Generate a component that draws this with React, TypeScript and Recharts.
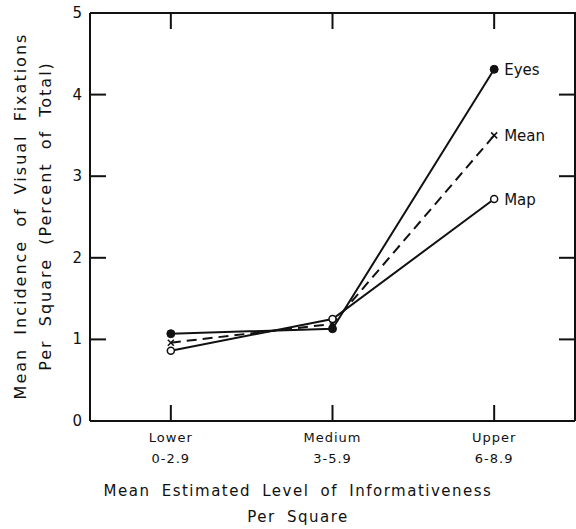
import React from 'react';
import { LineChart, Line, XAxis, YAxis, Label, LabelList } from 'recharts';

const levels = ['Lower', 'Medium', 'Upper'];
const ranges = ['0-2.9', '3-5.9', '6-8.9'];
const eyes = [1.07, 1.13, 4.31];
const map = [0.86, 1.25, 2.72];
const mean = [0.96, 1.19, 3.5];
const yTicks = [0, 1, 2, 3, 4, 5];

const data = levels.map((level, i) => ({
  idx: i,
  level,
  range: ranges[i],
  eyes: eyes[i],
  map: map[i],
  mean: mean[i],
}));

const FONT = '"DejaVu Sans", sans-serif';
const INK = '#111';
const TICK = 16;
const W = 576;
const H = 529;
const MARGIN = { top: 13, right: 1, left: 10, bottom: 0 };
const Y_AXIS_W = 80;
const X_AXIS_H = 108;
const X_MIN = -0.5;
const X_MAX = levels.length - 0.5;
const Y_MAX = 5;

// plot box, from the margins and axis sizes above
const PLOT_L = MARGIN.left + Y_AXIS_W;
const PLOT_R = W - MARGIN.right;
const PLOT_T = MARGIN.top;
const PLOT_B = H - MARGIN.bottom - X_AXIS_H;

const BottomTick = (props: any) => {
  const { x, y, payload } = props;
  const i = payload.value;
  return (
    <g>
      <line x1={x} y1={y} x2={x} y2={y - TICK} stroke={INK} strokeWidth={2} />
      <text x={x} y={y + 21} textAnchor="middle" fontFamily={FONT} fontSize={13} fill={INK} letterSpacing={1}>
        {levels[i]}
      </text>
      <text x={x} y={y + 42} textAnchor="middle" fontFamily={FONT} fontSize={13} fill={INK} letterSpacing={1}>
        {ranges[i]}
      </text>
    </g>
  );
};

const LeftTick = (props: any) => {
  const { x, y, payload } = props;
  return (
    <g>
      <line x1={x} y1={y} x2={x + TICK} y2={y} stroke={INK} strokeWidth={2} />
      <text x={x - 8} y={y + 5} textAnchor="end" fontFamily={FONT} fontSize={15} fill={INK}>
        {payload.value}
      </text>
    </g>
  );
};

const FilledDot = (props: any) => (
  <circle cx={props.cx} cy={props.cy} r={4} fill={INK} stroke={INK} />
);

const OpenDot = (props: any) => (
  <circle cx={props.cx} cy={props.cy} r={3.5} fill="#fff" stroke={INK} strokeWidth={1.5} />
);

const CrossDot = (props: any) => {
  const { cx, cy } = props;
  return (
    <g stroke={INK} strokeWidth={1.5}>
      <line x1={cx - 3} y1={cy - 3} x2={cx + 3} y2={cy + 3} />
      <line x1={cx - 3} y1={cy + 3} x2={cx + 3} y2={cy - 3} />
    </g>
  );
};

const endLabel = (name: string) => (props: any) => {
  const { x, y, index } = props;
  if (index !== levels.length - 1) return null;
  return (
    <text x={x + 10} y={y + 6} fontFamily={FONT} fontSize={15} fill={INK}>
      {name}
    </text>
  );
};

// top and right sides of the frame, with inward ticks
const Frame = () => {
  const pw = PLOT_R - PLOT_L;
  const ph = PLOT_B - PLOT_T;
  return (
    <g stroke={INK} strokeWidth={2} fill="none">
      <line x1={PLOT_L} y1={PLOT_T} x2={PLOT_R + 1} y2={PLOT_T} />
      <line x1={PLOT_R} y1={PLOT_T} x2={PLOT_R} y2={PLOT_B} />
      {levels.map((_, i) => {
        const tx = PLOT_L + ((i - X_MIN) / (X_MAX - X_MIN)) * pw;
        return <line key={`t${i}`} x1={tx} y1={PLOT_T} x2={tx} y2={PLOT_T + TICK} />;
      })}
      {yTicks.slice(1, -1).map((v) => {
        const ty = PLOT_B - (v / Y_MAX) * ph;
        return <line key={`r${v}`} x1={PLOT_R} y1={ty} x2={PLOT_R - TICK} y2={ty} />;
      })}
    </g>
  );
};

const XTitle = () => (
  <g fontFamily={FONT} fontSize={15} fill={INK} letterSpacing={1.5} wordSpacing={5}>
    <text x={298} y={496} textAnchor="middle">Mean Estimated Level of Informativeness</text>
    <text x={298} y={522} textAnchor="middle">Per Square</text>
  </g>
);

const YTitle = () => (
  <g>
    <Frame />
    <g fontFamily={FONT} fontSize={16} fill={INK} letterSpacing={2} wordSpacing={6}>
      <text transform="translate(26,216) rotate(-90)" textAnchor="middle">Mean Incidence of Visual Fixations</text>
      <text transform="translate(51,216) rotate(-90)" textAnchor="middle">Per Square (Percent of Total)</text>
    </g>
  </g>
);

export default function App() {
  return (
    <div style={{ position: 'absolute', left: 0, top: 0, background: '#fff' }}>
      <LineChart width={W} height={H} data={data} margin={MARGIN}>
        <XAxis
          dataKey="idx"
          type="number"
          domain={[X_MIN, X_MAX]}
          ticks={levels.map((_, i) => i)}
          height={X_AXIS_H}
          axisLine={{ stroke: INK, strokeWidth: 2 }}
          tickLine={false}
          tickSize={0}
          tickMargin={0}
          tick={<BottomTick />}
        >
          <Label content={<XTitle />} />
        </XAxis>
        <YAxis
          width={Y_AXIS_W}
          domain={[0, Y_MAX]}
          ticks={yTicks}
          axisLine={{ stroke: INK, strokeWidth: 2 }}
          tickLine={false}
          tickSize={0}
          tickMargin={0}
          tick={<LeftTick />}
        >
          <Label content={<YTitle />} />
        </YAxis>
        <Line dataKey="eyes" stroke={INK} strokeWidth={2} dot={<FilledDot />} isAnimationActive={false}>
          <LabelList content={endLabel('Eyes')} />
        </Line>
        <Line dataKey="mean" stroke={INK} strokeWidth={2} strokeDasharray="10 6" dot={<CrossDot />} isAnimationActive={false}>
          <LabelList content={endLabel('Mean')} />
        </Line>
        <Line dataKey="map" stroke={INK} strokeWidth={2} dot={<OpenDot />} isAnimationActive={false}>
          <LabelList content={endLabel('Map')} />
        </Line>
      </LineChart>
    </div>
  );
}
